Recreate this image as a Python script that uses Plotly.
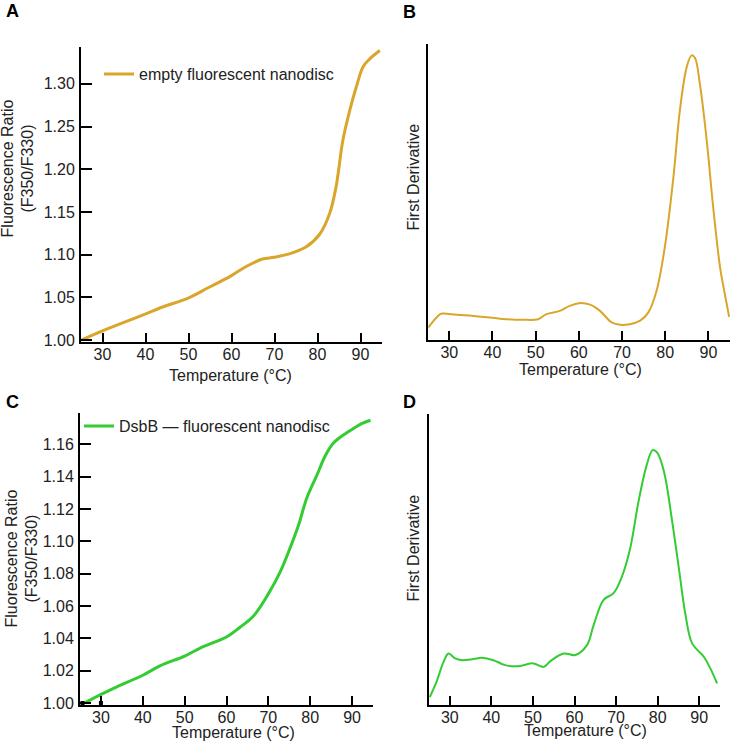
import plotly.graph_objects as go

# ---- Data ----
tempA = [25.0, 30.0, 39.6, 44.6, 49.8, 54.8, 59.8, 63.3, 67.2, 69.9, 73.4, 77.3, 80.5, 82.8, 84.3, 85.9, 87.5, 89.0, 90.6, 92.1, 94.5]
ratioA = [1.000, 1.011, 1.030, 1.040, 1.049, 1.062, 1.075, 1.086, 1.095, 1.097, 1.101, 1.109, 1.124, 1.148, 1.179, 1.234, 1.269, 1.296, 1.320, 1.329, 1.339]

tempB = [25.15, 27.9, 28.6, 31.7, 35.6, 39.4, 43.3, 47.1, 50.6, 52.5, 55.6, 57.9, 60.0, 62.6, 64.9, 67.6, 69.5, 71.8, 74.2, 76.1, 78.0, 79.9, 81.9, 83.4, 85.0, 86.1, 86.9, 88.0, 89.6, 91.1, 92.7, 93.8, 94.8]
derivB = [4.3, 8.8, 9.0, 8.6, 8.2, 7.7, 7.1, 6.9, 7.1, 8.8, 9.9, 11.6, 12.5, 12.0, 9.9, 6.0, 5.2, 5.4, 6.6, 9.4, 16.7, 31.4, 55.1, 77.7, 92.4, 96.2, 95.3, 86.8, 67.6, 45.0, 24.6, 15.6, 7.9]

tempC = [25.4, 29.8, 33.8, 39.9, 44.1, 50.0, 53.7, 60.1, 63.3, 66.5, 70.1, 72.8, 75.2, 77.2, 79.2, 81.6, 83.6, 85.6, 88.0, 90.4, 92.4, 94.4]
ratioC = [0.999, 1.005, 1.010, 1.017, 1.023, 1.029, 1.034, 1.041, 1.047, 1.054, 1.068, 1.081, 1.096, 1.110, 1.127, 1.141, 1.153, 1.161, 1.166, 1.170, 1.173, 1.175]

tempD = [25.2, 26.8, 28.5, 29.7, 31.3, 32.9, 35.7, 37.7, 40.5, 43.3, 46.5, 50.1, 52.6, 54.2, 57.4, 60.2, 63.0, 64.6, 67.0, 69.4, 71.4, 73.4, 75.4, 77.4, 78.8, 79.9, 81.5, 83.5, 85.1, 86.7, 88.3, 91.1, 92.7, 94.3]
derivD = [2.6, 7.8, 14.7, 17.6, 15.9, 15.3, 15.7, 16.1, 15.3, 13.6, 13.2, 14.2, 13.0, 15.0, 17.6, 17.1, 20.5, 27.4, 36.1, 38.4, 44.1, 53.9, 70.0, 82.7, 87.7, 86.8, 80.4, 63.1, 47.0, 30.9, 21.1, 16.5, 12.4, 7.3]

markC_x = [25.6, 30.0]
markC_y = [1.0, 1.0]

x_ticks = [30, 40, 50, 60, 70, 80, 90]
yA_ticks = [1.00, 1.05, 1.10, 1.15, 1.20, 1.25, 1.30]
yC_ticks = [1.00, 1.02, 1.04, 1.06, 1.08, 1.10, 1.12, 1.14, 1.16]

GOLD = "#DAA52B"
GREEN = "#33CC33"
FONT = "Liberation Sans, Arial, sans-serif"
TXT = "#222222"
W, H = 733, 745          # reference picture size (layout fractions)
FIG_H = 754              # page height that photographs to 745 px

def px(x):
    return x / W

def py(y):
    return 1 - y / H

fig = go.Figure()
fig.add_trace(go.Scatter(x=tempA, y=ratioA, mode="lines", line=dict(color=GOLD, width=3, shape="spline"),
                         name="empty fluorescent nanodisc", xaxis="x", yaxis="y", legend="legend"))
fig.add_trace(go.Scatter(x=tempB, y=derivB, mode="lines", line=dict(color=GOLD, width=2, shape="spline"),
                         showlegend=False, xaxis="x2", yaxis="y2"))
fig.add_trace(go.Scatter(x=tempC, y=ratioC, mode="lines", line=dict(color=GREEN, width=3, shape="spline"),
                         name="DsbB — fluorescent nanodisc", xaxis="x3", yaxis="y3", legend="legend2"))
fig.add_trace(go.Scatter(x=markC_x, y=markC_y, mode="markers", marker=dict(color="black", symbol="square", size=4),
                         showlegend=False, xaxis="x3", yaxis="y3", cliponaxis=False))
fig.add_trace(go.Scatter(x=tempD, y=derivD, mode="lines", line=dict(color=GREEN, width=2, shape="spline"),
                         showlegend=False, xaxis="x4", yaxis="y4"))

axis_common = dict(showline=True, linecolor="black", linewidth=2, showgrid=False, zeroline=False,
                   ticks="inside", ticklen=11, tickwidth=2, tickcolor="black",
                   tickfont=dict(family=FONT, size=16, color=TXT))

def xax(domain, anchor):
    d = dict(axis_common)
    d.update(domain=domain, anchor=anchor, range=[25, 95], tickvals=x_ticks, ticklen=9, ticklabelstandoff=-3)
    return d

def yax(domain, anchor, rng, ticks, fmt):
    d = dict(axis_common)
    d.update(domain=domain, anchor=anchor, range=rng, tickvals=ticks, tickformat=fmt, ticklabelstandoff=1)
    return d

def yax_blank(domain, anchor, rng):
    return dict(domain=domain, anchor=anchor, range=rng, showline=True, linecolor="black", linewidth=2,
                showgrid=False, zeroline=False, showticklabels=False, ticks="")

annotations = []
def ann(text, x, y, angle=0, size=16, bold=False):
    annotations.append(dict(text=f"<b>{text}</b>" if bold else text, x=px(x), y=py(y), xref="paper", yref="paper",
                            showarrow=False, textangle=angle, xanchor="center", yanchor="middle",
                            font=dict(family=FONT, size=size, color="black" if bold else TXT)))

ann("A", 12, 11, size=18, bold=True)
ann("B", 409, 12, size=18, bold=True)
ann("C", 12, 401, size=18, bold=True)
ann("D", 409, 401, size=18, bold=True)
ann("Temperature (°C)", 230, 374)
ann("Temperature (°C)", 580, 369)
ann("Temperature (°C)", 233, 731)
ann("Temperature (°C)", 585, 729)
ann("Fluorescence Ratio<br>(F350/F330)", 18, 168, angle=-90)
ann("Fluorescence Ratio<br>(F350/F330)", 22, 557, angle=-90)
ann("First Derivative", 413, 177, angle=-90)
ann("First Derivative", 413, 547, angle=-90)

fig.update_layout(
    width=W, height=FIG_H, margin=dict(l=0, r=0, t=0, b=0),
    paper_bgcolor="white", plot_bgcolor="white",
    xaxis=xax([px(81), px(382)], "y"),
    yaxis=yax([py(341), py(47)], "x", [0.998, 1.343], yA_ticks, ".2f"),
    xaxis2=xax([px(427.7), px(730)], "y2"),
    yaxis2=yax_blank([py(339.3), py(44)], "x2", [0, 100]),
    xaxis3=xax([px(80), px(373)], "y3"),
    yaxis3=yax([py(702.7), py(411.7)], "x3", [0.999, 1.1796], yC_ticks, ".2f"),
    xaxis4=xax([px(429), px(720)], "y4"),
    yaxis4=yax_blank([py(702.7), py(413.3)], "x4", [0, 100]),
    legend=dict(x=px(99), y=py(74), xanchor="left", yanchor="middle", bgcolor="rgba(0,0,0,0)",
                font=dict(family=FONT, size=16, color=TXT), borderwidth=0),
    legend2=dict(x=px(79), y=py(425), xanchor="left", yanchor="middle", bgcolor="rgba(0,0,0,0)",
                 font=dict(family=FONT, size=16, color=TXT), borderwidth=0),
    annotations=annotations,
)

fig.write_html("out.html", config={"displayModeBar": False},
               post_script="document.body.style.margin='0';document.body.style.overflow='hidden';")
